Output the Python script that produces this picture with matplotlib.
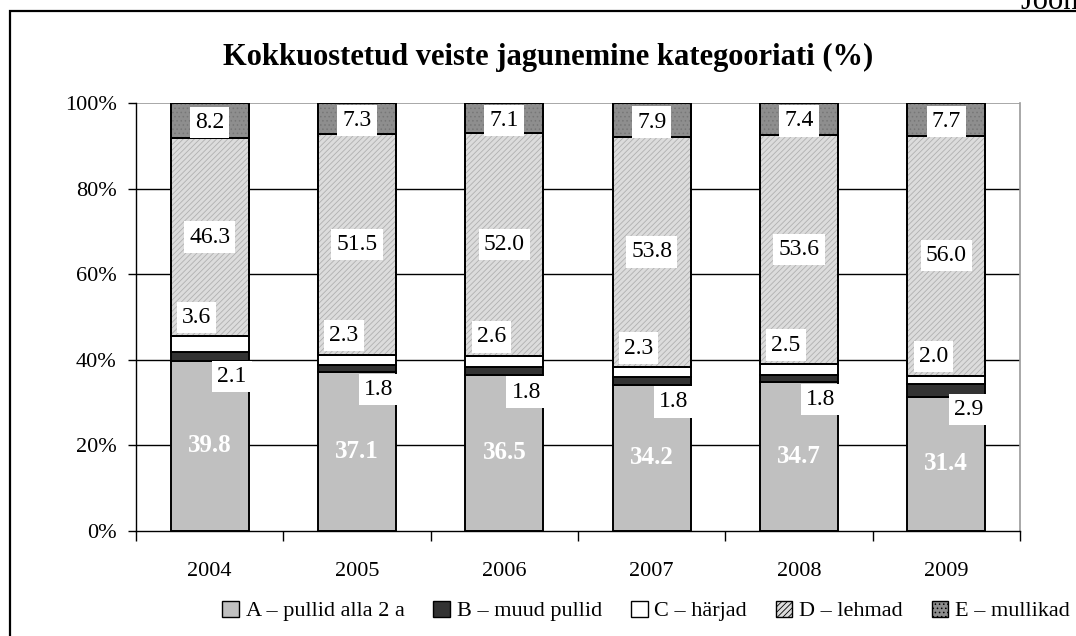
import matplotlib
matplotlib.use("Agg")
import matplotlib.pyplot as plt
from matplotlib.patches import Rectangle, Patch
import numpy as np

plt.rcParams['font.family'] = ['Liberation Serif', 'DejaVu Serif']
plt.rcParams['hatch.linewidth'] = 0.6

years = ['2004', '2005', '2006', '2007', '2008', '2009']
A = [39.8, 37.1, 36.5, 34.2, 34.7, 31.4]
B = [2.1, 1.8, 1.8, 1.8, 1.8, 2.9]
C = [3.6, 2.3, 2.6, 2.3, 2.5, 2.0]
D = [46.3, 51.5, 52.0, 53.8, 53.6, 56.0]
E = [8.2, 7.3, 7.1, 7.9, 7.4, 7.7]
series_names = ['A – pullid alla 2 a', 'B – muud pullid', 'C – härjad', 'D – lehmad', 'E – mullikad']
title = 'Kokkuostetud veiste jagunemine kategooriati (%)'
yticks = [0, 20, 40, 60, 80, 100]

W, H = 1076, 636
fig = plt.figure(figsize=(W / 100, H / 100), dpi=100)
ax = fig.add_axes([136 / W, 1 - 531 / H, (1020 - 136) / W, (531 - 103) / H])

x = np.arange(len(years))
width = 0.53
styles = [
    dict(color='#c0c0c0'),
    dict(color='#333333'),
    dict(color='#ffffff'),
    dict(color='#dcdcdc', hatch='//////'),
    dict(color='#8e8e8e', hatch='....'),
]
hatch_colors = [None, None, None, '#b0b0b0', '#777777']
data = [A, B, C, D, E]
bottom = np.zeros(len(years))
bottoms = []
for i, (vals, st) in enumerate(zip(data, styles)):
    bottoms.append(bottom.copy())
    ax.bar(x, vals, width, bottom=bottom, facecolor=st['color'],
           edgecolor='black', linewidth=1.4, zorder=3)
    if st.get('hatch'):
        ax.bar(x, vals, width, bottom=bottom, facecolor='none',
               edgecolor=hatch_colors[i], hatch=st['hatch'], linewidth=0, zorder=3)
        ax.bar(x, vals, width, bottom=bottom, facecolor='none',
               edgecolor='black', linewidth=1.4, zorder=3)
    bottom = bottom + np.array(vals)

ax.set_xlim(-0.5, len(years) - 0.5)
ax.set_ylim(0, 100)
ax.set_yticks(yticks)
ax.set_yticklabels([f'{t}%' for t in yticks], fontsize=16)
ax.set_xticks(x)
ax.set_xticklabels(years, fontsize=16)
ax.tick_params(axis='x', length=0, pad=22)
ax.set_xticks(np.arange(len(years) + 1) - 0.5, minor=True)
ax.tick_params(axis='x', which='minor', length=7, width=1, direction='out')
ax.tick_params(axis='y', length=6, width=1, direction='out', pad=8)

for t in yticks[1:-1]:
    ax.axhline(t, color='black', linewidth=1, zorder=1)
ax.axhline(100, color='#9a9a9a', linewidth=1.2, zorder=1)
ax.spines['top'].set_visible(False)
ax.spines['right'].set_color('#9a9a9a')
ax.spines['right'].set_linewidth(1.2)
ax.spines['left'].set_linewidth(1)
ax.spines['bottom'].set_linewidth(1)

box = dict(boxstyle='square,pad=0.22', facecolor='white', edgecolor='none')
px = 1 / 147.4  # data units per pixel horizontally
py = 100 / 428  # data units per pixel vertically
fs = 17
for j in range(len(years)):
    ax.text(x[j], bottoms[0][j] + A[j] / 2, f'{A[j]:.1f}', ha='center', va='center',
            color='white', fontweight='bold', fontsize=18, zorder=5)
    ax.text(x[j] + 22 * px, bottoms[1][j] + B[j] - 25 * py, f'{B[j]:.1f}', ha='center',
            va='center', fontsize=fs, bbox=box, zorder=5)
    ax.text(x[j] - 13 * px, bottoms[2][j] + C[j] + 19 * py, f'{C[j]:.1f}', ha='center',
            va='center', fontsize=fs, bbox=box, zorder=5)
    ax.text(x[j], bottoms[3][j] + D[j] / 2, f'{D[j]:.1f}', ha='center', va='center',
            fontsize=fs, bbox=box, zorder=5)
    ax.text(x[j], bottoms[4][j] + E[j] / 2 - 0.5, f'{E[j]:.1f}', ha='center', va='center',
            fontsize=fs, bbox=box, zorder=5)

fig.text(548 / W, 1 - 57 / H, title, ha='center', va='center', fontsize=22, fontweight='bold')

handles = []
for i, st in enumerate(styles):
    handles.append(Patch(facecolor=st['color'], edgecolor='black', linewidth=1,
                         hatch=st.get('hatch')))
fig.legend(handles, series_names, loc='center', bbox_to_anchor=(646 / W, 1 - 611 / H),
           ncol=5, frameon=False, fontsize=16, handlelength=0.75, handleheight=0.75,
           handletextpad=0.3, columnspacing=1.3)

fig.patches.append(Rectangle((10 / W, -0.1), 1.2, 1 - 11 / H + 0.1, transform=fig.transFigure,
                             fill=False, edgecolor='black', linewidth=1.6, clip_on=False))
fig.text(1021 / W, 1 - 9 / H, 'Joonis 1', ha='left', va='baseline', fontsize=22)

fig.savefig('out.png', dpi=100)
